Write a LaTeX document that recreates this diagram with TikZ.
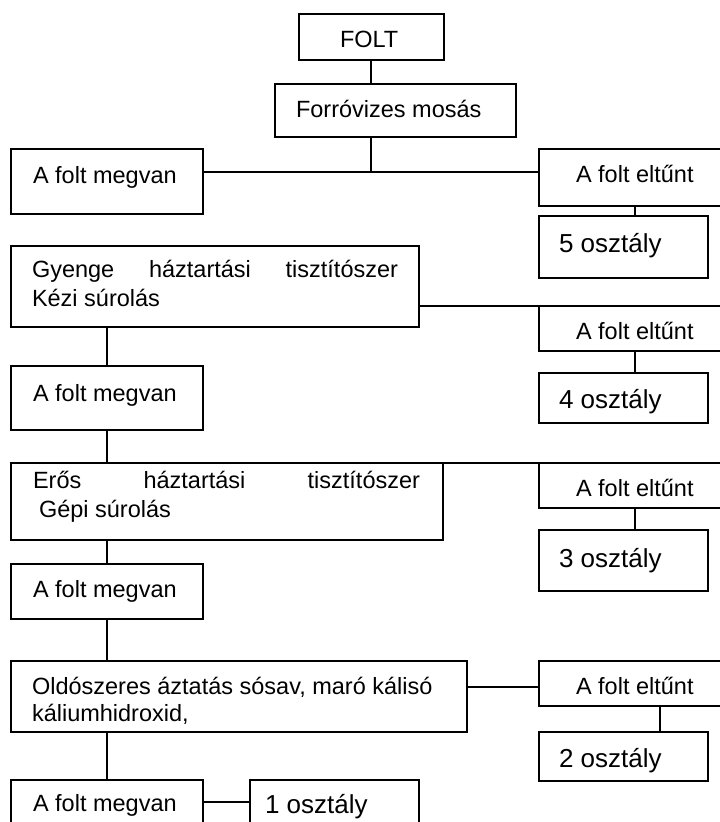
\documentclass[tikz,border=0pt]{standalone}
\usepackage{fontspec}
\setmainfont{Liberation Sans}
\newcommand\mybox[5]{\node[box, minimum width={#4pt-#2pt}, minimum height={#5pt-#3pt}] (#1) at (#2,#3) {};}
\begin{document}
\begin{tikzpicture}[x=1pt,y=-1pt,
  box/.style={draw, line width=1.2pt, inner sep=0pt, outer sep=0pt, anchor=north west},
  lbl/.style={anchor=base west, inner sep=0pt, outer sep=0pt, font=\fontsize{23.5}{28}\selectfont},
  cls/.style={lbl, font=\fontsize{26}{30}\selectfont},
  conA/.style={line width=1.2pt},
  conB/.style={line width=2pt},
  conC/.style={line width=2.8pt},
  conD/.style={line width=2.5pt}]
\useasboundingbox (0,0) rectangle (720,822);
\clip (0,0) rectangle (720,822);
% boxes
\mybox{folt}{299}{14}{444}{60}
\mybox{forr}{275}{84}{516}{137}
\mybox{m1}{11}{149}{203}{214}
\mybox{e1}{539}{149}{726}{206}
\mybox{o5}{539}{216}{708}{278}
\mybox{gy}{11}{246}{419}{327}
\mybox{e2}{539}{306}{726}{351}
\mybox{m2}{11}{366}{203}{430}
\mybox{o4}{539}{373}{708}{423}
\mybox{er}{11}{463}{443}{540}
\mybox{e3}{539}{463}{726}{508}
\mybox{o3}{539}{530}{708}{591}
\mybox{m3}{11}{564}{203}{619}
\mybox{old}{11}{661}{467}{732}
\mybox{e4}{539}{661}{726}{706}
\mybox{o2}{539}{732}{708}{781}
\mybox{m4}{11}{780}{203}{832}
\mybox{o1}{250}{780}{419}{832}
% helper coordinates
\coordinate (cx) at (371,0);
\coordinate (h1) at (0,172);
\coordinate (h2) at (0,306);
\coordinate (t1) at (180,463);
\coordinate (t2) at (612,463);
\coordinate (h4) at (0,687);
\coordinate (h5) at (0,802);
\coordinate (r1) at (635,0);
\coordinate (r2) at (660,0);
% connectors
\draw[conA] (folt.south -| cx) -- (forr.north -| cx);
\draw[conA] (forr.south -| cx) -- (cx |- h1);
\draw[conC] (m1.east |- h1) -- (e1.west |- h1);
\draw[conD] (e1.south -| r1) -- (o5.north -| r1);
\draw[conB] (gy.east |- h2) -- (e2.north east);
\draw[conD] (e2.south -| r1) -- (o4.north -| r1);
\draw[conA] (m2.north |- gy.south) -- (m2.north);
\draw[conA] (m2.south) -- (m2.south |- er.north);
\draw[conC] (t1) -- (t2);
\draw[conB] (t2) -- (e3.north east);
\draw[conD] (e3.south -| r1) -- (o3.north -| r1);
\draw[conA] (m3.north |- er.south) -- (m3.north);
\draw[conA] (m3.south) -- (m3.south |- old.north);
\draw[conA] (m4.north |- old.south) -- (m4.north);
\draw[conB] (old.east |- h4) -- (e4.west |- h4);
\draw[conD] (e4.south -| r2) -- (o2.north -| r2);
\draw[conB] (m4.east |- h5) -- (o1.west |- h5);
% texts
\node[lbl] (tfolt) at (340,47) {FOLT};
\node[lbl] (tforr) at (296,117) {Forróvizes mosás};
\node[lbl] (tm1) at (33,183) {A folt megvan};
\node[lbl] (tm2) at (33,401) {A folt megvan};
\node[lbl] (tm3) at (33,597) {A folt megvan};
\node[lbl] (tm4) at (33,811) {A folt megvan};
\node[lbl] (te1) at (576,182) {A folt eltűnt};
\node[lbl] (te2) at (576,339) {A folt eltűnt};
\node[lbl] (te3) at (576,496) {A folt eltűnt};
\node[lbl] (te4) at (576,694) {A folt eltűnt};
\node[cls] (to5) at (559,252) {5 osztály};
\node[cls] (to4) at (559,408) {4 osztály};
\node[cls] (to3) at (559,567) {3 osztály};
\node[cls] (to2) at (559,767) {2 osztály};
\node[cls] (to1) at (265,813) {1 osztály};
\node[lbl] (tgy1) at (32,277) {\makebox[366pt][s]{Gyenge háztartási tisztítószer}};
\node[lbl] (tgy2) at (32,306) {Kézi súrolás};
\node[lbl] (ter1) at (33,488) {\makebox[387pt][s]{Erős háztartási tisztítószer}};
\node[lbl] (ter2) at (39,517) {Gépi súrolás};
\node[lbl] (told1) at (32,694) {Oldószeres áztatás sósav, maró kálisó};
\node[lbl] (told2) at (32,721) {káliumhidroxid,};
\end{tikzpicture}
\end{document}
